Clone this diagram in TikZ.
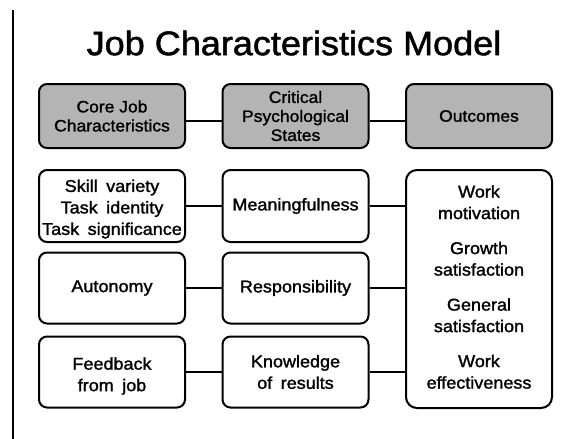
\documentclass[tikz,border=0pt]{standalone}
\usepackage{fontspec}
\setmainfont{Liberation Sans}[FakeStretch=1.06, FakeBold=1.5]
\definecolor{headgray}{RGB}{180,180,180}
\begin{document}
\begin{tikzpicture}[x=1pt,y=-1pt,
  bodyfont/.style={font=\fontsize{17}{21.5}\selectfont},
  box/.style={draw=black, line width=2pt, rounded corners=8pt, inner sep=0pt,
    minimum width=146pt, align=center, bodyfont},
  headbox/.style={box, fill=headgray, minimum height=64pt,
    font=\fontsize{16.5}{19}\selectfont},
  boxtext/.style={align=center, inner sep=0pt, bodyfont},
  link/.style={draw=black, line width=2pt}]
\useasboundingbox (0,0) rectangle (563,439);
\fill[white] (0,0) rectangle (563,439);

% margin rule on the left
\coordinate (ruletop) at (12.5,10);
\coordinate (rulebot) at (12.5,439);
\draw[line width=2pt] (ruletop) -- (rulebot);

% title
\node (title) at (294,43) {\fontsize{34}{40}\selectfont Job Characteristics Model};

% column headings
\node[headbox] (core) at (112,116) {Core Job\\Characteristics};
\node[headbox] (states) at (295.5,116) {Critical\\Psychological\\States};
\node[headbox] (outc) at (479,116) {Outcomes};
\draw[link] ([yshift=-5pt]core.east) -- ([yshift=-5pt]core.east -| states.west);
\draw[link] ([yshift=-5pt]states.east) -- ([yshift=-5pt]states.east -| outc.west);

% job characteristics
\node[box, minimum height=72pt] (skill) at (112,206) {};
\node[boxtext] (skilltext) at ([yshift=-3pt]skill.center)
  {Skill\hskip0.5em variety\\Task\hskip0.5em identity\\Task\hskip0.5em significance};
\node[box, minimum height=71pt] (auto) at (112,288) {Autonomy};
\node[box, minimum height=71pt] (feed) at (112,372) {};
\node[boxtext] (feedtext) at ([yshift=-4pt]feed.center) {Feedback\\from\hskip0.5em job};

% psychological states
\node[box, minimum height=72pt] (mean) at (295.5,206) {Meaningfulness};
\node[box, minimum height=71pt] (resp) at (295.5,288) {Responsibility};
\node[box, minimum height=71pt] (know) at (295.5,372) {Knowledge\\of\hskip0.5em results};

% outcomes
\node[box, rounded corners=11pt, minimum height=238pt] (res) at (479,289) {};
\node[boxtext] (restext) at ([yshift=2pt]res.center)
  {Work\\motivation\\[13.5pt]Growth\\satisfaction\\[13.5pt]General\\satisfaction\\[13.5pt]Work\\effectiveness};

% connectors
\draw[link] (skill.east) -- (mean.west);
\draw[link] (auto.east) -- (resp.west);
\draw[link] (feed.east) -- (know.west);
\draw[link] (mean.east) -- (mean.east -| res.west);
\draw[link] (resp.east) -- (resp.east -| res.west);
\draw[link] (know.east) -- (know.east -| res.west);
\end{tikzpicture}
\end{document}
